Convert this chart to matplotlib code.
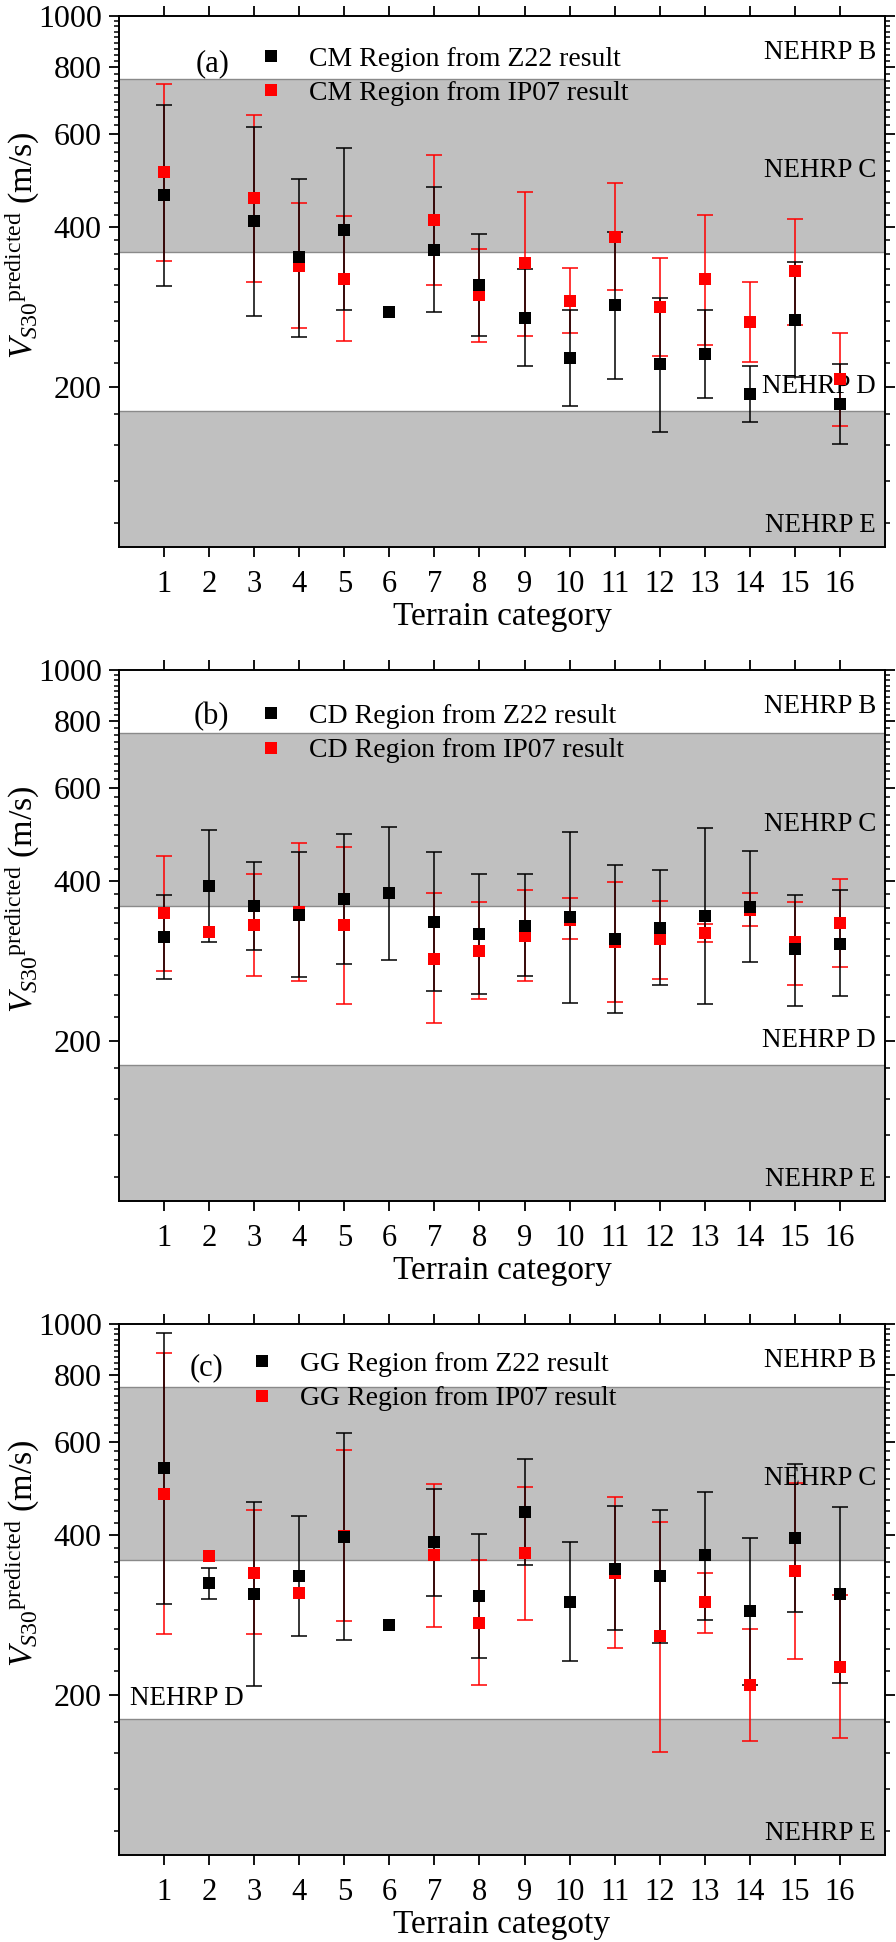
import numpy as np
import matplotlib
matplotlib.use('Agg')
import matplotlib.pyplot as plt
from matplotlib.ticker import FixedLocator, NullFormatter, FixedFormatter
from matplotlib.lines import Line2D

plt.rcParams['font.family'] = ['Liberation Serif', 'DejaVu Serif']
plt.rcParams['mathtext.fontset'] = 'custom'
plt.rcParams['mathtext.rm'] = 'Liberation Serif'
plt.rcParams['mathtext.it'] = 'Liberation Serif:italic'

# terrain categories
cats = np.arange(1, 17)

# (a) CM region
a_z22 = [460, None, 411, 351, 395, 277, 363, 312, 270, 227, 285, 221, 231, 194, 268, 186]
a_z22_lo = [310, None, 272, 249, 279, None, 277, 250, 219, 184, 207, 165, 191, 172, 209, 156]
a_z22_hi = [680, None, 619, 493, 563, None, 476, 389, 334, 280, 392, 295, 280, 219, 344, 221]
a_ip07 = [509, None, 455, 338, 320, None, 413, 298, 342, 291, 383, 283, 319, 265, 331, 207]
a_ip07_lo = [346, None, 316, 259, 244, None, 312, 243, 250, 253, 305, 229, 240, 223, 262, 169]
a_ip07_hi = [744, None, 652, 444, 420, None, 547, 364, 466, 336, 484, 350, 422, 315, 415, 253]

# (b) CD region
b_z22 = [314, 392, 359, 346, 371, 380, 336, 318, 330, 342, 312, 327, 344, 358, 298, 305]
b_z22_lo = [262, 308, 297, 264, 280, 284, 249, 245, 265, 236, 226, 255, 235, 282, 233, 243]
b_z22_hi = [377, 499, 435, 454, 492, 506, 455, 412, 412, 495, 430, 421, 503, 456, 377, 385]
b_ip07 = [348, 321, 331, 350, 331, None, 286, 296, 315, 338, 308, 312, 320, 353, 308, 334]
b_ip07_lo = [271, None, 265, 260, 235, None, 216, 240, 260, 311, 237, 262, 307, 329, 255, 276]
b_ip07_hi = [447, None, 412, 472, 464, None, 380, 365, 386, 372, 399, 368, 333, 380, 365, 404]

# (c) GG region
c_z22 = [535, 325, 310, 335, 397, 271, 389, 308, 442, 300, 346, 335, 367, 288, 396, 310]
c_z22_lo = [297, 303, 208, 259, 254, None, 308, 235, 352, 232, 265, 251, 277, 209, 287, 211]
c_z22_hi = [963, 347, 462, 435, 624, None, 490, 403, 557, 389, 454, 447, 483, 396, 546, 453]
c_ip07 = [479, 366, 340, 311, 399, None, 367, 274, 370, None, 339, 258, 299, 209, 342, 226]
c_ip07_lo = [261, None, 261, None, 276, None, 269, 209, 277, None, 245, 156, 262, 164, 234, 166]
c_ip07_hi = [880, None, 446, None, 580, None, 500, 359, 494, None, 473, 424, 340, 266, 501, 309]

# NEHRP site class boundaries (m/s)
nehrp_bounds = [180, 360, 760]
nehrp_names = ['NEHRP B', 'NEHRP C', 'NEHRP D', 'NEHRP E']

y_major = [200, 400, 600, 800, 1000]
y_minor = [m + k * 200 / 9 for m in range(0, 1000, 200) for k in range(1, 9)]
y_minor = [v for v in y_minor if v > 100]

GRAY = '#c0c0c0'
LINE_GRAY = '#8a8a8a'


def draw_panel(ax, z22, z22_lo, z22_hi, ip07, ip07_lo, ip07_hi, tag, region, xlabel,
               d_left=False, tag_x=0.122, leg_x=0.180, leg_y=0.941, tag_y=0.91):
    z22, z22_lo, z22_hi = [np.array(v, dtype=float) for v in (z22, z22_lo, z22_hi)]
    ip07, ip07_lo, ip07_hi = [np.array(v, dtype=float) for v in (ip07, ip07_lo, ip07_hi)]

    ax.set_yscale('log')
    ax.set_ylim(100, 1000)
    ax.set_xlim(0, 17)

    ax.axhspan(100, nehrp_bounds[0], color=GRAY, zorder=0, lw=0)
    ax.axhspan(nehrp_bounds[1], nehrp_bounds[2], color=GRAY, zorder=0, lw=0)
    for b in nehrp_bounds:
        ax.axhline(b, color=LINE_GRAY, lw=1.0, zorder=0.5)

    ax.errorbar(cats, ip07, yerr=[ip07 - ip07_lo, ip07_hi - ip07], fmt='none',
                ecolor='red', elinewidth=1.1, capsize=5.5, capthick=1.1, zorder=2)
    ax.errorbar(cats, z22, yerr=[z22 - z22_lo, z22_hi - z22], fmt='none',
                ecolor='black', elinewidth=1.1, capsize=5.5, capthick=1.1, zorder=3)
    ax.plot(cats, ip07, 's', color='red', ms=8.8, mew=0, zorder=4)
    ax.plot(cats, z22, 's', color='black', ms=8.8, mew=0, zorder=5)

    # NEHRP labels
    ax.text(16.8, 855, nehrp_names[0], ha='right', va='center', fontsize=19.5)
    ax.text(16.8, 512, nehrp_names[1], ha='right', va='center', fontsize=19.5)
    if d_left:
        ax.text(0.25, 197, nehrp_names[2], ha='left', va='center', fontsize=19.5)
    else:
        ax.text(16.8, 201, nehrp_names[2], ha='right', va='center', fontsize=19.5)
    ax.text(16.8, 109.7, nehrp_names[3], ha='right', va='center', fontsize=19.5)

    # legend
    ax.text(tag_x, tag_y, tag, transform=ax.transAxes,
            ha='center', va='center', fontsize=22)
    h1 = Line2D([], [], marker='s', ls='none', color='black', ms=8.8, mew=0)
    h2 = Line2D([], [], marker='s', ls='none', color='red', ms=8.8, mew=0)
    ax.legend([h1, h2], [f'{region} Region from Z22 result', f'{region} Region from IP07 result'],
              loc='upper left', bbox_to_anchor=(leg_x, leg_y), frameon=False, fontsize=20,
              handlelength=1.0, handletextpad=0.89, labelspacing=0.32,
              borderpad=0, borderaxespad=0)

    # axes styling
    ax.yaxis.set_major_locator(FixedLocator(y_major))
    ax.yaxis.set_major_formatter(FixedFormatter([str(v) for v in y_major]))
    ax.yaxis.set_minor_locator(FixedLocator(y_minor))
    ax.yaxis.set_minor_formatter(NullFormatter())
    ax.set_xticks(cats)
    ax.set_xticklabels([str(c) for c in cats])
    ax.xaxis.set_minor_locator(FixedLocator([]))
    for s in ax.spines.values():
        s.set_linewidth(1.4)
    ax.tick_params(axis='both', which='major', direction='out', length=7.5, width=1.3)
    ax.tick_params(axis='x', labelsize=22, pad=9, top=True, bottom=True)
    ax.tick_params(axis='y', which='major', labelsize=23, pad=5)
    ax.tick_params(axis='y', which='minor', direction='out', length=3.8, width=1.1)
    ax.tick_params(axis='y', which='both', left=True, right=True)

    ax.set_xlabel(xlabel, fontsize=24, labelpad=1.5)
    ax.set_ylabel(r'$\mathit{V}_{\mathit{S}30}{}^{\mathrm{predicted}}$ (m/s)', fontsize=24.5)
    ax.yaxis.set_label_coords(-0.100, 0.568)


fig = plt.figure(figsize=(8.96, 19.42), dpi=100)
left, width, height = 119 / 896, 766 / 896, 531 / 1942
ax_a = fig.add_axes([left, 1 - 547 / 1942, width, height])
ax_b = fig.add_axes([left, 1 - 1201 / 1942, width, height])
ax_c = fig.add_axes([left, 1 - 1855 / 1942, width, height])

draw_panel(ax_a, a_z22, a_z22_lo, a_z22_hi, a_ip07, a_ip07_lo, a_ip07_hi, '(a)', 'CM',
           'Terrain category', leg_y=0.943, tag_y=0.9096)
draw_panel(ax_b, b_z22, b_z22_lo, b_z22_hi, b_ip07, b_ip07_lo, b_ip07_hi, '(b)', 'CD',
           'Terrain category', leg_y=0.937, tag_x=0.120, tag_y=0.9115)
draw_panel(ax_c, c_z22, c_z22_lo, c_z22_hi, c_ip07, c_ip07_lo, c_ip07_hi, '(c)', 'GG',
           'Terrain categoty', d_left=True, tag_x=0.1136, leg_x=0.168, leg_y=0.948, tag_y=0.918)

fig.savefig('out.png', dpi=100)
